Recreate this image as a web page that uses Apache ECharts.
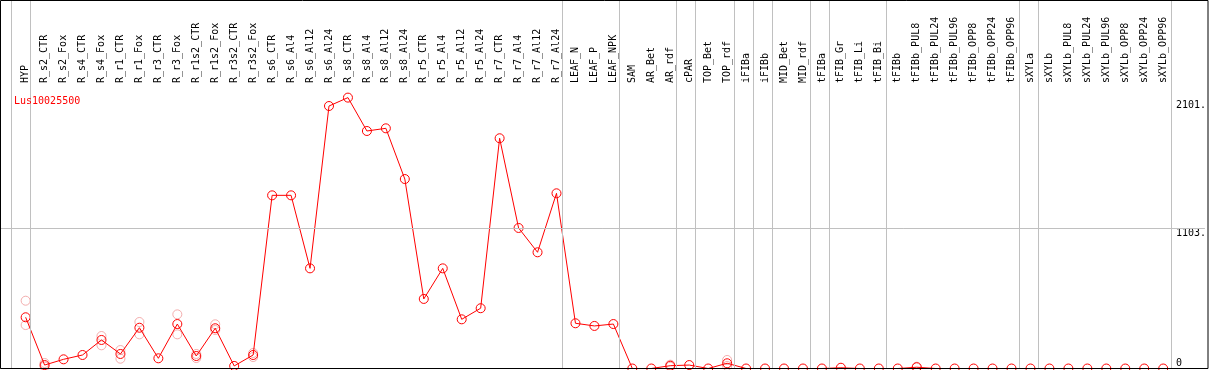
<!DOCTYPE html>
<html>
<head>
<meta charset="utf-8">
<script src="https://cdn.jsdelivr.net/npm/echarts@6/dist/echarts.min.js"></script>
<style>
  html, body { margin: 0; padding: 0; background: #fff; }
  #chart { width: 1209px; height: 370px; }
</style>
</head>
<body>
<div id="chart"></div>
<script>
// categories along the top
const cats = [
  "HYP", "R_s2_CTR", "R_s2_Fox", "R_s4_CTR", "R_s4_Fox", "R_r1_CTR", "R_r1_Fox",
  "R_r3_CTR", "R_r3_Fox", "R_r1s2_CTR", "R_r1s2_Fox", "R_r3s2_CTR", "R_r3s2_Fox",
  "R_s6_CTR", "R_s6_Al4", "R_s6_Al12", "R_s6_Al24", "R_s8_CTR", "R_s8_Al4",
  "R_s8_Al12", "R_s8_Al24", "R_r5_CTR", "R_r5_Al4", "R_r5_Al12", "R_r5_Al24",
  "R_r7_CTR", "R_r7_Al4", "R_r7_Al12", "R_r7_Al24", "LEAF_N", "LEAF_P", "LEAF_NPK",
  "SAM", "AR_Bet", "AR_rdf", "cPAR", "TOP_Bet", "TOP_rdf", "iFIBa", "iFIBb",
  "MID_Bet", "MID_rdf", "tFIBa", "tFIB_Gr", "tFIB_Li", "tFIB_Bi", "tFIBb",
  "tFIBb_PUL8", "tFIBb_PUL24", "tFIBb_PUL96", "tFIBb_OPP8", "tFIBb_OPP24", "tFIBb_OPP96",
  "sXYLa", "sXYLb", "sXYLb_PUL8", "sXYLb_PUL24", "sXYLb_PUL96", "sXYLb_OPP8",
  "sXYLb_OPP24", "sXYLb_OPP96"
];

// mean expression per sample
const means = [
  402, 27, 72, 106, 224, 114, 320, 80, 349, 98, 316, 20, 106,
  1359, 1359, 786, 2060, 2126, 1864, 1885, 1487, 546, 786, 386, 473,
  1807, 1103, 912, 1375, 355, 334, 349,
  0, 0, 22, 27, 0, 41, 0, 0, 0, 0, 0, 6, 0, 0, 0,
  10, 0, 0, 0, 0, 0,
  0, 0, 0, 0, 0, 0, 0, 0
];

// replicates [sample index, value]
const reps = [
  [0, 532], [0, 341], [1, 43], [1, 15], [4, 255], [4, 182], [5, 145], [5, 77],
  [6, 365], [6, 268], [8, 425], [8, 268], [9, 114], [9, 82], [10, 347], [10, 302],
  [12, 122], [12, 90], [34, 30], [34, 14], [37, 67], [37, 20], [47, 14]
];

// sample group ends (separator drawn just after these indices)
const groupEnds = [-1, 0, 28, 31, 34, 35, 37, 38, 39, 41, 42, 45, 52, 53, 60];

const yTicks = [1103, 2101];
const yZero = [0];
const title = "Lus10025500";

const FONT = "DejaVu Sans Mono";
const X_MIN = -1.3, X_MAX = 62.2;
const Y_MAX = 2225;

const chart = echarts.init(document.getElementById("chart"));

const option = {
  animation: false,
  backgroundColor: "#fff",
  title: {
    text: title,
    left: 9,
    top: 91,
    textStyle: { color: "#ff0000", fontSize: 10, fontWeight: "normal", fontFamily: FONT }
  },
  grid: [
    { left: 1, right: 1, top: 85, height: 283.5, show: false },
    { left: 1, right: 1, top: 0, height: 368.5, show: false }
  ],
  xAxis: [
    {
      type: "value",
      gridIndex: 0,
      position: "top",
      min: X_MIN,
      max: X_MAX,
      axisLine: { show: true, lineStyle: { color: "#000", width: 1 } },
      axisTick: { show: false },
      splitLine: { show: false },
      axisLabel: {
        customValues: cats.map((c, i) => i),
        formatter: (v) => cats[Math.round(v)] || "",
        rotate: 90,
        margin: 2,
        color: "#000",
        fontSize: 10,
        fontFamily: FONT
      }
    },
    { type: "value", gridIndex: 1, min: X_MIN, max: X_MAX, show: false }
  ],
  yAxis: [
    {
      type: "value",
      gridIndex: 0,
      position: "right",
      min: 0,
      max: Y_MAX,
      axisLine: { show: false },
      axisTick: { show: false },
      splitLine: { show: false },
      axisLabel: {
        customValues: yTicks,
        formatter: (v) => v + ".",
        inside: true,
        align: "left",
        verticalAlign: "top",
        margin: 29,
        color: "#000",
        fontSize: 10,
        fontFamily: FONT
      }
    },
    {
      type: "value",
      gridIndex: 0,
      position: "right",
      min: 0,
      max: Y_MAX,
      axisLine: { show: false },
      axisTick: { show: false },
      splitLine: { show: false },
      axisLabel: {
        customValues: yZero,
        inside: true,
        align: "left",
        verticalAlign: "bottom",
        margin: 29,
        color: "#000",
        fontSize: 10,
        fontFamily: FONT
      }
    },
    { type: "value", gridIndex: 1, min: 0, max: 1, show: false }
  ],
  graphic: [
    {
      type: "rect",
      silent: true,
      z: 100,
      shape: { x: 0.5, y: 0.5, width: 1207.5, height: 368 },
      style: { fill: "none", stroke: "#000", lineWidth: 1 }
    }
  ],
  series: [
    {
      // vertical group separators spanning the whole figure
      type: "line",
      xAxisIndex: 1,
      yAxisIndex: 2,
      data: [],
      z: 1,
      silent: true,
      markLine: {
        silent: true,
        symbol: "none",
        label: { show: false },
        lineStyle: { color: "#c0c0c0", width: 1, type: "solid" },
        data: groupEnds.map((g) => ({ xAxis: g + 0.25 }))
      }
    },
    {
      // horizontal mid gridline
      type: "line",
      xAxisIndex: 0,
      yAxisIndex: 0,
      data: [],
      z: 1,
      silent: true,
      markLine: {
        silent: true,
        symbol: "none",
        label: { show: false },
        lineStyle: { color: "#c0c0c0", width: 1, type: "solid" },
        data: [{ yAxis: yTicks[0] }]
      }
    },
    {
      type: "scatter",
      xAxisIndex: 0,
      yAxisIndex: 0,
      data: reps,
      symbol: "circle",
      symbolSize: 9,
      z: 2,
      itemStyle: { color: "rgba(0,0,0,0)", borderColor: "#f09a9a", borderWidth: 1 }
    },
    {
      type: "line",
      xAxisIndex: 0,
      yAxisIndex: 0,
      data: means.map((v, i) => [i, v]),
      symbol: "circle",
      symbolSize: 9,
      clip: false,
      z: 3,
      lineStyle: { color: "#ff0000", width: 1 },
      itemStyle: { color: "rgba(0,0,0,0)", borderColor: "#ff0000", borderWidth: 1 }
    }
  ]
};

chart.setOption(option);
</script>
</body>
</html>
